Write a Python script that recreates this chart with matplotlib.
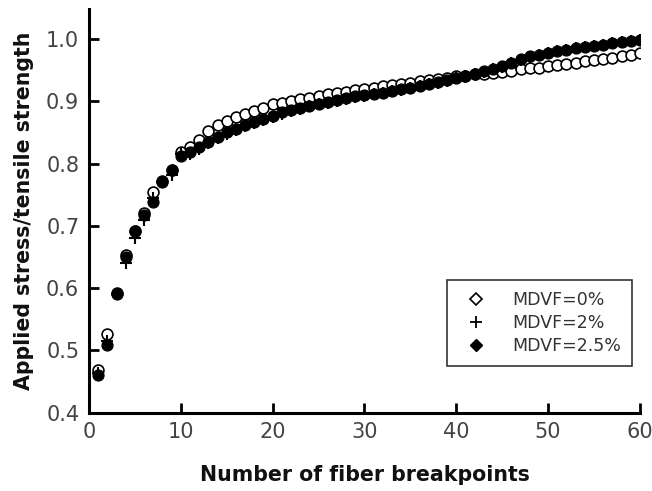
import matplotlib
matplotlib.use("Agg")
import matplotlib.pyplot as plt
from matplotlib.lines import Line2D

plt.rcParams['font.family'] = ['DejaVu Sans']

breakpoints = list(range(1, 61))

mdvf_0 = [0.468, 0.527, 0.592, 0.653, 0.692, 0.720, 0.755, 0.772, 0.790, 0.818,
          0.826, 0.838, 0.852, 0.862, 0.868, 0.874, 0.879, 0.884, 0.889, 0.895,
          0.898, 0.901, 0.903, 0.906, 0.909, 0.911, 0.913, 0.915, 0.918, 0.920,
          0.922, 0.924, 0.926, 0.928, 0.930, 0.932, 0.934, 0.936, 0.938, 0.940,
          0.941, 0.943, 0.944, 0.946, 0.947, 0.949, 0.951, 0.953, 0.954, 0.956,
          0.958, 0.960, 0.962, 0.964, 0.966, 0.968, 0.970, 0.972, 0.975, 0.977]

mdvf_2 = [0.463, 0.515, 0.590, 0.640, 0.680, 0.710, 0.745, 0.770, 0.782, 0.815,
          0.816, 0.824, 0.833, 0.841, 0.848, 0.854, 0.860, 0.865, 0.870, 0.875,
          0.880, 0.884, 0.888, 0.892, 0.895, 0.898, 0.901, 0.904, 0.907, 0.909,
          0.911, 0.913, 0.916, 0.918, 0.921, 0.924, 0.927, 0.930, 0.933, 0.937,
          0.940, 0.943, 0.947, 0.951, 0.955, 0.961, 0.967, 0.971, 0.974, 0.977,
          0.980, 0.983, 0.985, 0.987, 0.989, 0.991, 0.993, 0.995, 0.997, 0.999]

mdvf_25 = [0.460, 0.508, 0.590, 0.650, 0.692, 0.717, 0.739, 0.771, 0.790, 0.812,
           0.818, 0.826, 0.835, 0.843, 0.850, 0.856, 0.862, 0.867, 0.872, 0.877,
           0.882, 0.886, 0.889, 0.893, 0.896, 0.899, 0.902, 0.905, 0.908, 0.910,
           0.912, 0.914, 0.917, 0.919, 0.922, 0.925, 0.928, 0.931, 0.934, 0.938,
           0.941, 0.944, 0.948, 0.952, 0.956, 0.962, 0.968, 0.972, 0.975, 0.978,
           0.980, 0.983, 0.985, 0.987, 0.989, 0.991, 0.993, 0.995, 0.997, 0.999]

labels = ['MDVF=0%', 'MDVF=2%', 'MDVF=2.5%']
x_ticks = [0, 10, 20, 30, 40, 50, 60]
y_ticks = [0.4, 0.5, 0.6, 0.7, 0.8, 0.9, 1.0]

fig = plt.figure(figsize=(6.52, 4.91), dpi=100)
ax = fig.add_axes([0.1365, 0.1595, 0.845, 0.822])

ax.plot(breakpoints, mdvf_0, linestyle='none', marker='o', markersize=7.8,
        markerfacecolor='white', markeredgecolor='black', markeredgewidth=1.2,
        label=labels[0], zorder=2)
ax.plot(breakpoints, mdvf_2, linestyle='none', marker='+', markersize=9,
        markeredgewidth=1.5, color='black', label=labels[1], zorder=3)
ax.plot(breakpoints, mdvf_25, linestyle='none', marker='o', markersize=7.8,
        color='black', markeredgewidth=1.0, label=labels[2], zorder=4)

ax.set_xlim(0, 60)
ax.set_ylim(0.4, 1.048)
ax.set_xticks(x_ticks)
ax.set_yticks(y_ticks)
ax.set_xticklabels([str(t) for t in x_ticks])
ax.set_yticklabels([f"{t:.1f}" for t in y_ticks])

for s in ['top', 'right']:
    ax.spines[s].set_visible(False)
for s in ['left', 'bottom']:
    ax.spines[s].set_linewidth(2.2)
ax.tick_params(direction='in', length=7, width=2.0, labelsize=15,
               labelcolor='#444444', pad=7)

ax.set_xlabel('Number of fiber breakpoints', fontsize=14.8, fontweight='bold',
              labelpad=16, color='#111111')
ax.set_ylabel('Applied stress/tensile strength', fontsize=14.8, fontweight='bold',
              labelpad=9, color='#111111')

lh = [Line2D([], [], linestyle='none', marker='D', markersize=6, markerfacecolor='white',
             markeredgecolor='black', markeredgewidth=1.2),
      Line2D([], [], linestyle='none', marker='+', markersize=8, markeredgewidth=1.3,
             color='black'),
      Line2D([], [], linestyle='none', marker='D', markersize=6, color='black')]
leg = ax.legend(lh, labels, loc='upper left', bbox_to_anchor=(0.649, 0.328),
                fontsize=12.5, frameon=True, fancybox=False, edgecolor='black',
                handletextpad=1.0, borderpad=0.6, labelspacing=0.3, handlelength=2.2,
                borderaxespad=0)
leg.get_frame().set_linewidth(1.2)
for t in leg.get_texts():
    t.set_color('#333333')

fig.savefig('out.png', dpi=100)
